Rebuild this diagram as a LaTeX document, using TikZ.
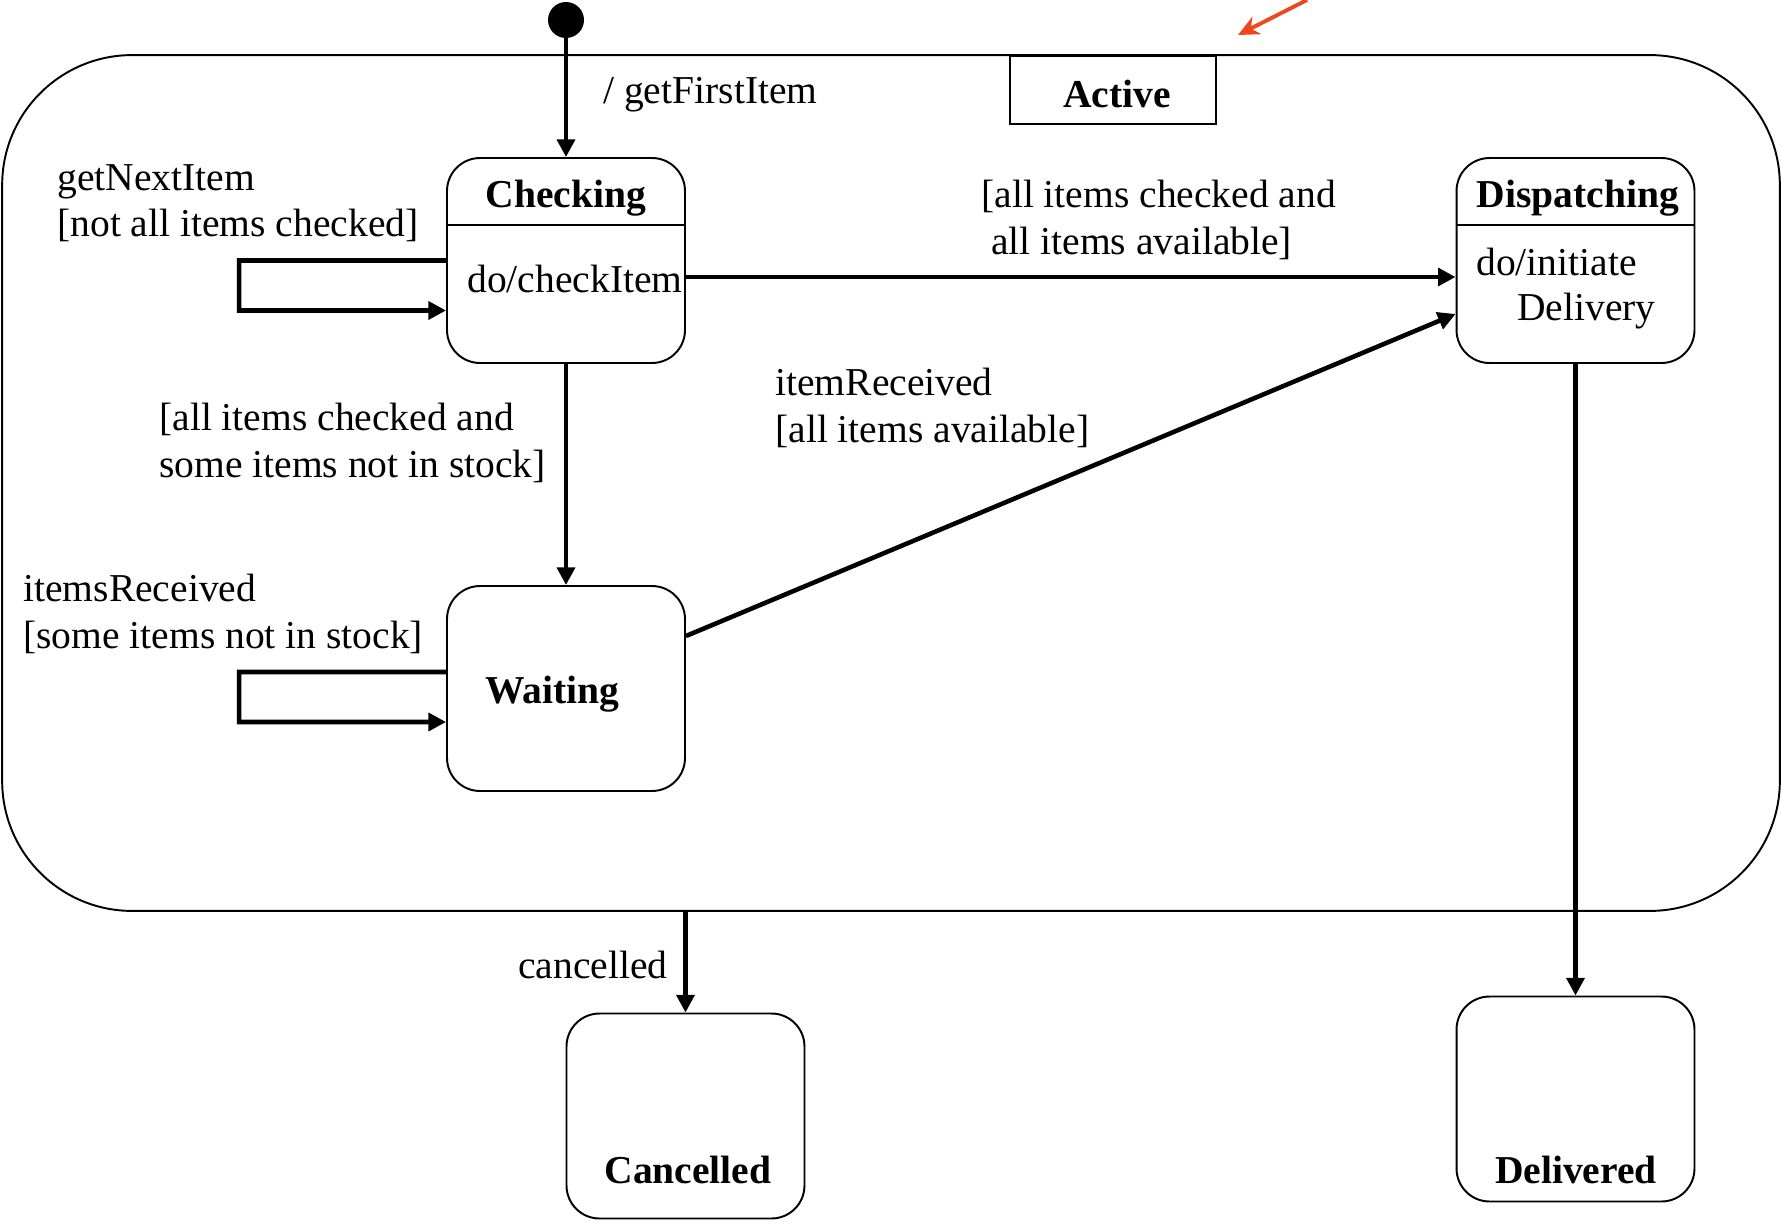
\documentclass[tikz,border=0pt]{standalone}
\usepackage{fontspec}
\setmainfont{Liberation Serif}
\usepackage{xcolor}
\usetikzlibrary{arrows.meta,positioning,calc}

\definecolor{pointerred}{RGB}{240,70,30}

\begin{document}
\begin{tikzpicture}[
    x=0.02cm, y=-0.02cm,
    font=\fontsize{22.5}{26.5}\selectfont,
    state/.style={rectangle, draw, line width=1.1pt, rounded corners=0.66cm, minimum width=4.76cm, minimum height=4.1cm},
    superstate/.style={rectangle, draw, line width=1.1pt, rounded corners=2.6cm, minimum width=35.56cm, minimum height=17.12cm},
    tab/.style={rectangle, draw, line width=1.1pt, minimum width=4.12cm, minimum height=1.36cm},
    initial/.style={circle, fill=black, minimum size=0.72cm, inner sep=0pt},
    title/.style={inner sep=0pt, font=\fontsize{22.5}{26.5}\selectfont\bfseries},
    guard/.style={inner sep=0pt, align=left},
    trans/.style={line width=2.6pt, -{Triangle[length=10pt, width=10pt]}},
    pointer/.style={line width=2.2pt, pointerred, -{Stealth[length=12pt, width=11pt]}}
]
\useasboundingbox (0,0) rectangle (1782,1224);

% Composite state
\node[superstate] (active) at (891,483) {};
\node[tab, anchor=north] (activetab) at (1113,55) {};
\node[title] (activetitle) at (1117,94) {Active};
\coordinate (pointerstart) at (1307,0);
\draw[pointer] (pointerstart) -- ([shift={(21,-20)}]activetab.north east);

% Initial state
\node[initial] (start) at (566,20) {};

% Inner states
\node[state] (checking) at (566,260.5) {};
\draw[line width=1.1pt] ([yshift=-1.36cm]checking.north west) -- ([yshift=-1.36cm]checking.north east);
\node[title] (checkingtitle) at (566,198) {Checking};
\node[inner sep=0pt] (checkingbody) at (575,279) {do/checkItem};

\node[state] (dispatching) at (1575.5,260.5) {};
\draw[line width=1.1pt] ([yshift=-1.36cm]dispatching.north west) -- ([yshift=-1.36cm]dispatching.north east);
\node[title] (dispatchingtitle) at (1578,198) {Dispatching};
\node[inner sep=0pt, anchor=west] (dispatchingbody) at (1476,262) {do/initiate};
\node[inner sep=0pt, anchor=west] (dispatchingbody2) at (1517,311) {Delivery};

\node[state] (waiting) at (566,688.5) {};
\node[title] (waitingtitle) at (552,694) {Waiting};

% Final states
\node[state] (cancelled) at (685.5,1116) {};
\node[title] (cancelledtitle) at (688,1170) {Cancelled};
\node[state] (delivered) at (1575.5,1099) {};
\node[title] (deliveredtitle) at (1576,1170) {Delivered};

% Transitions
\draw[trans] (start) -- (checking);
\draw[trans] ([yshift=-0.33cm]checking.east) -- ([yshift=-0.33cm]dispatching.west);
\draw[trans] (checking) -- (waiting);
\draw[trans] ([yshift=1.05cm]waiting.east) -- ([yshift=-1.07cm]dispatching.west);
\draw[trans] (checking.west) -- ++(-207,0) -- ++(0,50) -- ([yshift=-1.0cm]checking.west);
\draw[trans] ([yshift=0.33cm]waiting.west) -- ++(-207,0) -- ++(0,50) -- ([yshift=-0.67cm]waiting.west);
\draw[trans] (active.south -| cancelled.north) -- (cancelled.north);
\draw[trans] (dispatching) -- (delivered);

% Transition labels
\node[guard, anchor=west] (firstlabel) at (603,95) {/ getFirstItem};
\node[guard, anchor=west] (nextlabel) at (57,203) {getNextItem\\{[}not all items checked{]}};
\node[guard, anchor=west] (availlabel) at (981,220) {[all items checked and\\\hspace*{0.25em}all items available{]}};
\node[guard, anchor=west] (stocklabel) at (159,443) {[all items checked and\\some items not in stock{]}};
\node[guard, anchor=west] (receivedlabel) at (775,408) {itemReceived\\{[}all items available{]}};
\node[guard, anchor=west] (itemslabel) at (23,614) {itemsReceived\\{[}some items not in stock{]}};
\node[guard, anchor=east] (cancellabel) at (668,965) {cancelled};

\end{tikzpicture}
\end{document}
